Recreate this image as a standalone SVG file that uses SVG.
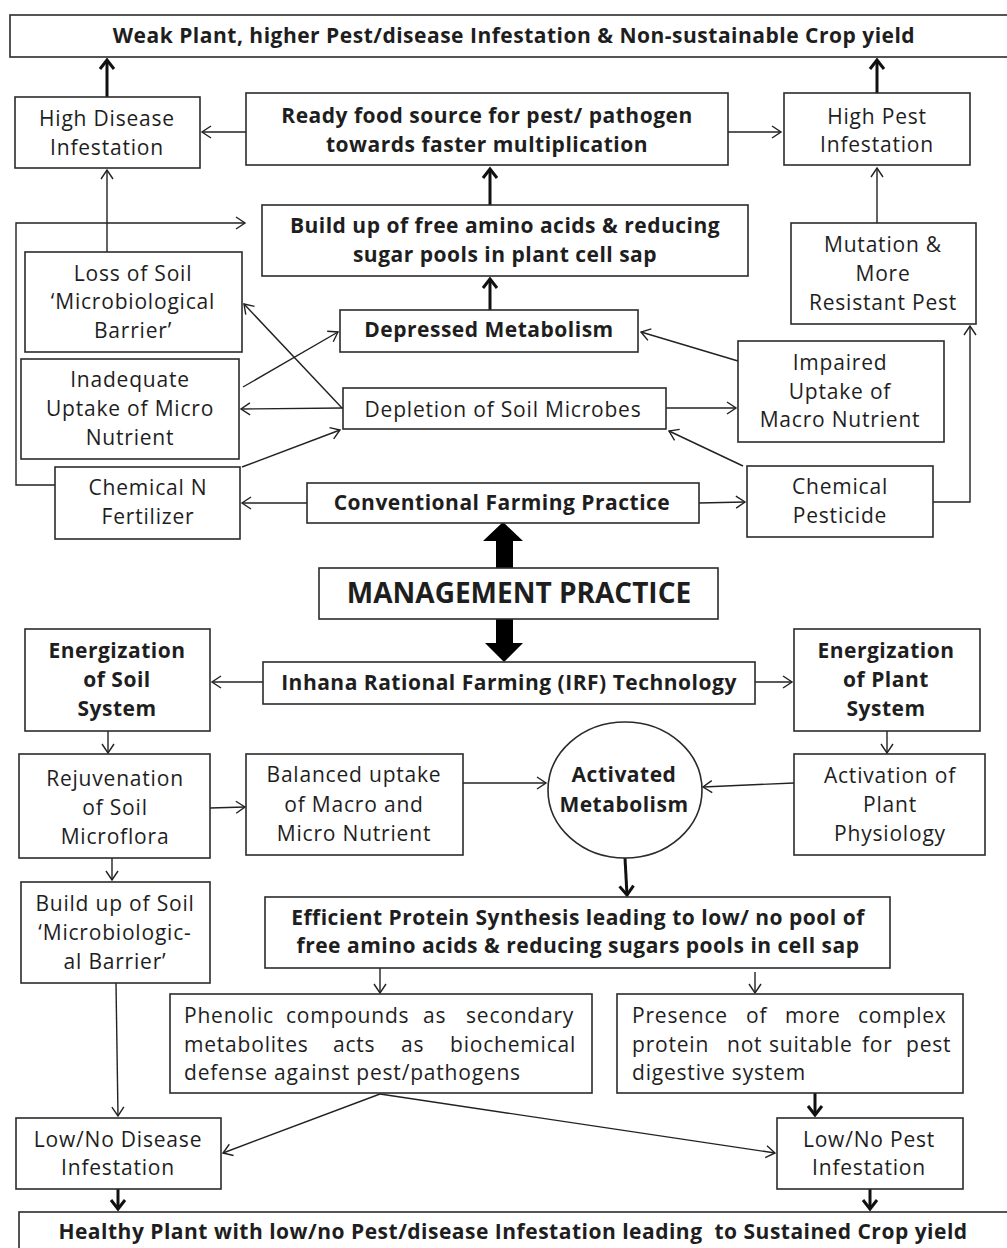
<svg xmlns="http://www.w3.org/2000/svg" width="1007" height="1248" viewBox="0 0 1007 1248">
<style>
.bx{fill:#fff;stroke:#2b2b2b;stroke-width:1.6}
.t{font-family:"Open Sans",Lato,"Liberation Sans",sans-serif;font-size:21px;fill:#1e1e1e;text-anchor:middle;letter-spacing:0.8px}
.b{font-weight:bold;letter-spacing:0.5px}
.j{text-anchor:start}
.c{fill:none;stroke:#222;stroke-width:1.4;marker-end:url(#a)}
.k{fill:none;stroke:#111;stroke-width:3;marker-end:url(#ak)}
.blk{fill:#000}
</style>
<defs>
<marker id="a" markerUnits="userSpaceOnUse" viewBox="-12 -8 14 16" markerWidth="14" markerHeight="16" refX="0" refY="0" orient="auto">
<path d="M-9,-6 L0,0 L-9,6" fill="none" stroke="#222" stroke-width="1.4"/>
</marker>
<marker id="ak" markerUnits="userSpaceOnUse" viewBox="-12 -10 15 20" markerWidth="15" markerHeight="20" refX="0" refY="0" orient="auto">
<path d="M-9,-7 L0,0 L-9,7" fill="none" stroke="#111" stroke-width="3"/>
</marker>
</defs>

<g id="connectors">
<line class="k" x1="107" y1="97" x2="107" y2="60"/>
<line class="k" x1="877" y1="93" x2="877" y2="60"/>
<line class="c" x1="246" y1="132" x2="202" y2="132"/>
<line class="c" x1="728" y1="132" x2="781" y2="132"/>
<line class="k" x1="490" y1="205" x2="490" y2="169"/>
<line class="k" x1="490" y1="310" x2="490" y2="279"/>
<line class="c" x1="107" y1="252" x2="107" y2="170"/>
<polyline class="c" points="55,485 16,485 16,223 245,223"/>
<line class="c" x1="877" y1="223" x2="877" y2="168"/>
<line class="c" x1="342" y1="408" x2="244" y2="304"/>
<line class="c" x1="343" y1="408" x2="241" y2="409"/>
<line class="c" x1="243" y1="387" x2="338" y2="332"/>
<line class="c" x1="242" y1="467" x2="340" y2="430"/>
<line class="c" x1="738" y1="361" x2="641" y2="332"/>
<line class="c" x1="666" y1="408" x2="736" y2="408"/>
<line class="c" x1="743" y1="466" x2="669" y2="431"/>
<line class="c" x1="307" y1="503" x2="242" y2="503"/>
<line class="c" x1="699" y1="503" x2="745" y2="502"/>
<polyline class="c" points="933,502 970,502 970,326"/>
<polygon class="blk" points="496,568 496,541 483,541 503,522 523,541 513,541 513,568"/>
<polygon class="blk" points="496,619 496,643 485,643 504,662 523,643 513,643 513,619"/>
<line class="c" x1="263" y1="682" x2="212" y2="682"/>
<line class="c" x1="755" y1="682" x2="792" y2="682"/>
<line class="c" x1="108" y1="731" x2="108" y2="753"/>
<line class="c" x1="887" y1="731" x2="887" y2="753"/>
<line class="c" x1="210" y1="808" x2="245" y2="807"/>
<line class="c" x1="463" y1="783" x2="546" y2="783"/>
<line class="c" x1="794" y1="783" x2="703" y2="787"/>
<line class="k" x1="625" y1="858" x2="627" y2="895"/>
<line class="c" x1="112" y1="858" x2="112" y2="880"/>
<line class="c" x1="380" y1="968" x2="380" y2="993"/>
<line class="c" x1="755" y1="972" x2="755" y2="993"/>
<line class="c" x1="116" y1="983" x2="118" y2="1116"/>
<line class="c" x1="380" y1="1094" x2="223" y2="1153"/>
<line class="c" x1="380" y1="1094" x2="775" y2="1153"/>
<line class="k" x1="815" y1="1093" x2="815" y2="1115"/>
<line class="k" x1="118" y1="1189" x2="118" y2="1209"/>
<line class="k" x1="870" y1="1189" x2="870" y2="1209"/>
</g>

<g id="n-top"><rect class="bx" x="10" y="15" width="1005" height="42"/>
<text class="t b" x="514" y="43">Weak Plant, higher Pest/disease Infestation &amp; Non-sustainable Crop yield</text></g>

<g id="n-hdis"><rect class="bx" x="15" y="97" width="185" height="71"/>
<text class="t" x="107" y="126">High Disease</text><text class="t" x="107" y="155">Infestation</text></g>

<g id="n-ready"><rect class="bx" x="246" y="93" width="482" height="72"/>
<text class="t b" x="487" y="123">Ready food source for pest/ pathogen</text><text class="t b" x="487" y="152">towards faster multiplication</text></g>

<g id="n-hpest"><rect class="bx" x="784" y="93" width="186" height="72"/>
<text class="t" x="877" y="124">High Pest</text><text class="t" x="877" y="152">Infestation</text></g>

<g id="n-buildup"><rect class="bx" x="262" y="205" width="486" height="71"/>
<text class="t b" x="505" y="233">Build up of free amino acids &amp; reducing</text><text class="t b" x="505" y="262">sugar pools in plant cell sap</text></g>

<g id="n-mutation"><rect class="bx" x="791" y="223" width="185" height="101"/>
<text class="t" x="883" y="252">Mutation &amp;</text><text class="t" x="883" y="281">More</text><text class="t" x="883" y="310">Resistant Pest</text></g>

<g id="n-loss"><rect class="bx" x="25" y="252" width="217" height="100"/>
<text class="t" x="133" y="281">Loss of Soil</text><text class="t" x="133" y="309">‘Microbiological</text><text class="t" x="133" y="338">Barrier’</text></g>

<g id="n-depressed"><rect class="bx" x="340" y="310" width="298" height="42"/>
<text class="t b" x="489" y="337">Depressed Metabolism</text></g>

<g id="n-impaired"><rect class="bx" x="738" y="341" width="206" height="101"/>
<text class="t" x="840" y="370">Impaired</text><text class="t" x="840" y="399">Uptake of</text><text class="t" x="840" y="427">Macro Nutrient</text></g>

<g id="n-inadequate"><rect class="bx" x="21" y="359" width="218" height="100"/>
<text class="t" x="130" y="387">Inadequate</text><text class="t" x="130" y="416">Uptake of Micro</text><text class="t" x="130" y="445">Nutrient</text></g>

<g id="n-depletion"><rect class="bx" x="343" y="388" width="323" height="41"/>
<text class="t" x="503" y="417">Depletion of Soil Microbes</text></g>

<g id="n-chemN"><rect class="bx" x="55" y="467" width="185" height="72"/>
<text class="t" x="148" y="495">Chemical N</text><text class="t" x="148" y="524">Fertilizer</text></g>

<g id="n-conv"><rect class="bx" x="307" y="483" width="392" height="40"/>
<text class="t b" x="502" y="510">Conventional Farming Practice</text></g>

<g id="n-chemP"><rect class="bx" x="747" y="466" width="186" height="71"/>
<text class="t" x="840" y="494">Chemical</text><text class="t" x="840" y="523">Pesticide</text></g>

<g id="n-mgmt"><rect class="bx" x="319" y="568" width="399" height="51"/>
<text class="t b" x="519" y="603" style="font-size:28px;letter-spacing:0">MANAGEMENT PRACTICE</text></g>

<g id="n-esoil"><rect class="bx" x="25" y="629" width="185" height="102"/>
<text class="t b" x="117" y="658">Energization</text><text class="t b" x="117" y="687">of Soil</text><text class="t b" x="117" y="716">System</text></g>

<g id="n-inhana"><rect class="bx" x="263" y="662" width="492" height="42"/>
<text class="t b" x="509" y="690">Inhana Rational Farming (IRF) Technology</text></g>

<g id="n-eplant"><rect class="bx" x="794" y="629" width="186" height="102"/>
<text class="t b" x="886" y="658">Energization</text><text class="t b" x="886" y="687">of Plant</text><text class="t b" x="886" y="716">System</text></g>

<g id="n-rejuv"><rect class="bx" x="19" y="754" width="191" height="104"/>
<text class="t" x="115" y="786">Rejuvenation</text><text class="t" x="115" y="815">of Soil</text><text class="t" x="115" y="844">Microflora</text></g>

<g id="n-balanced"><rect class="bx" x="246" y="754" width="217" height="101"/>
<text class="t" x="354" y="782">Balanced uptake</text><text class="t" x="354" y="812">of Macro and</text><text class="t" x="354" y="841">Micro Nutrient</text></g>

<g id="n-activated"><ellipse class="bx" cx="625" cy="790" rx="77" ry="68"/>
<text class="t b" x="624" y="782">Activated</text><text class="t b" x="624" y="812">Metabolism</text></g>

<g id="n-activation"><rect class="bx" x="794" y="754" width="191" height="101"/>
<text class="t" x="890" y="783">Activation of</text><text class="t" x="890" y="812">Plant</text><text class="t" x="890" y="841">Physiology</text></g>

<g id="n-buildsoil"><rect class="bx" x="21" y="882" width="189" height="101"/>
<text class="t" x="115" y="911">Build up of Soil</text><text class="t" x="115" y="940">‘Microbiologic-</text><text class="t" x="115" y="969">al Barrier’</text></g>

<g id="n-efficient"><rect class="bx" x="265" y="897" width="625" height="71"/>
<text class="t b" x="578" y="925">Efficient Protein Synthesis leading to low/ no pool of</text><text class="t b" x="578" y="953">free amino acids &amp; reducing sugars pools in cell sap</text></g>

<g id="n-phenolic"><rect class="bx" x="170" y="994" width="422" height="99"/>
<text class="t j" y="1023"><tspan x="184">Phenolic</tspan><tspan x="286">compounds</tspan><tspan x="423">as</tspan><tspan x="466">secondary</tspan></text>
<text class="t j" y="1052"><tspan x="184">metabolites</tspan><tspan x="333">acts</tspan><tspan x="401">as</tspan><tspan x="450">biochemical</tspan></text>
<text class="t j" x="184" y="1080">defense against pest/pathogens</text></g>

<g id="n-presence"><rect class="bx" x="617" y="994" width="346" height="99"/>
<text class="t j" y="1023"><tspan x="632">Presence</tspan><tspan x="746">of</tspan><tspan x="785">more</tspan><tspan x="858">complex</tspan></text>
<text class="t j" y="1052"><tspan x="632">protein</tspan><tspan x="727">not</tspan><tspan x="769">suitable</tspan><tspan x="862">for</tspan><tspan x="906">pest</tspan></text>
<text class="t j" x="632" y="1080">digestive system</text></g>

<g id="n-lowdis"><rect class="bx" x="16" y="1118" width="205" height="71"/>
<text class="t" x="118" y="1147">Low/No Disease</text><text class="t" x="118" y="1175">Infestation</text></g>

<g id="n-lowpest"><rect class="bx" x="777" y="1118" width="186" height="71"/>
<text class="t" x="869" y="1147">Low/No Pest</text><text class="t" x="869" y="1175">Infestation</text></g>

<g id="n-bottom"><rect class="bx" x="19" y="1212" width="995" height="45"/>
<text class="t b" x="513" y="1239" xml:space="preserve">Healthy Plant with low/no Pest/disease Infestation leading  to Sustained Crop yield</text></g>
</svg>
